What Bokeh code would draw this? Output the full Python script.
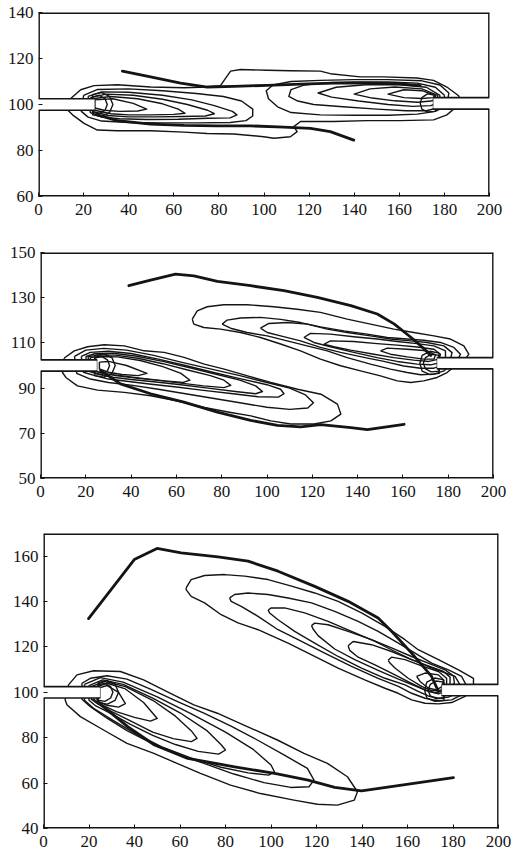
from bokeh.plotting import figure
from bokeh.models import FixedTicker, Range1d
from bokeh.embed import file_html
from bokeh.resources import INLINE

# ---------------- axes ----------------
X_RANGE = (0, 200)
X_TICKS = [0, 20, 40, 60, 80, 100, 120, 140, 160, 180, 200]
P1_Y_RANGE = (60, 140)
P1_Y_TICKS = [60, 80, 100, 120, 140]
P2_Y_RANGE = (50, 150)
P2_Y_TICKS = [50, 70, 90, 110, 130, 150]
P3_Y_RANGE = (40, 170)
P3_Y_TICKS = [40, 60, 80, 100, 120, 140, 160]

# ---------------- nozzles (x extent, y extent) ----------------
NOZZLE_LEFT_X = (0, 25)
NOZZLE_RIGHT_X = (175, 200)
P1_NOZZLE_LEFT_Y = (97.5, 102.5)
P1_NOZZLE_RIGHT_Y = (98, 103)
P2_NOZZLE_LEFT_Y = (97.5, 102.5)
P2_NOZZLE_RIGHT_Y = (98.5, 103.5)
P3_NOZZLE_LEFT_Y = (97.5, 102.5)
P3_NOZZLE_RIGHT_Y = (98.5, 103.5)

# ---------------- panel 1 ----------------
P1_TRAJ_UPPER = [(37.2, 114.5), (49.7, 112), (63, 109.3), (74.8, 107.6), (86.6, 107.9), (101.4, 108.3),
                 (116.2, 108.9), (130.9, 109.3), (145.7, 109.3), (160.4, 109), (169.3, 108.2)]
P1_TRAJ_LOWER = [(26.1, 95.5), (35, 93), (49.7, 91.5), (64.5, 90.9), (79.3, 90.7), (94, 90.7),
                 (108.8, 90.2), (120.6, 89.6), (129.4, 88.2), (139.8, 84.5)]
P1_CONTOURS = [
    [(14.3, 102.6), (18.7, 106.4), (24.6, 108.2), (35, 108.6), (49.7, 107.6), (64.5, 107.3), (74.8, 107.6),
     (80.7, 108.2), (83, 111.5), (85.2, 114.5), (89.6, 115.2), (101.4, 114.9), (111.7, 114.7), (125, 114.5),
     (129.4, 113.4), (142.7, 112), (153.1, 112), (167.8, 111.5), (175.2, 110.5), (181.1, 107.6), (186.3, 103.8),
     (187, 102), (185.5, 99.1), (181.1, 95.5), (175.2, 93.3), (160.4, 93), (145.7, 93), (130.9, 92.6),
     (116.2, 92.6), (113.2, 90.4), (114.7, 88.2), (111.7, 86), (104.4, 85.3), (99.9, 86), (86.6, 87.2),
     (74.8, 87.4), (64.5, 88), (49.7, 88.6), (35, 88.6), (26.1, 88.9), (20.2, 91.8), (15.1, 95.5), (12.8, 97.7)],
    [(20, 104), (26, 106.5), (40, 106.8), (55, 106), (70, 104.8), (82, 103.5), (90, 101.5), (95, 98), (95, 95),
     (92, 93), (85, 92.2), (70, 92), (55, 92), (40, 92.2), (28, 92.8), (22, 94.5), (19, 97)],
    [(22, 103.5), (28, 105.5), (40, 105.3), (55, 104), (68, 102), (78, 99.5), (86, 97), (88, 95.5), (85, 94.2),
     (75, 94), (62, 93.6), (48, 93.5), (36, 93.8), (28, 94.5), (23, 96.5)],
    [(23, 103), (30, 104.5), (42, 104), (55, 102.3), (66, 100), (75, 97.5), (78, 96), (74, 95), (64, 94.8),
     (52, 94.6), (40, 94.6), (31, 95.2), (24, 97)],
    [(24, 102.5), (32, 103.5), (44, 102.5), (55, 100.3), (62, 98), (65, 96.2), (60, 95.7), (50, 95.5),
     (40, 95.5), (32, 96), (25, 97.5)],
    [(25, 102), (33, 102.5), (42, 100.5), (48, 98), (44, 97.2), (36, 97), (29, 97.5), (25, 98.5)],
    [(24, 103.3), (27, 104), (29.5, 102.5), (30.5, 100), (29.5, 97.5), (27, 96), (24, 96.5)],
    [(24, 104.3), (28, 105.2), (31.5, 103.5), (33, 100), (31.5, 96.5), (28, 94.8), (24, 95.5)],
    [(182, 105), (178, 108.5), (170, 110.3), (155, 110.8), (140, 110.8), (125, 110.5), (112, 110), (104, 108.5),
     (101, 106), (102, 102.5), (106, 99), (112, 96.5), (125, 95.5), (140, 95.3), (155, 95.3), (168, 95.8),
     (176, 97), (181, 99.5)],
    [(180, 104), (176, 107.5), (168, 109.3), (155, 109.8), (140, 109.8), (128, 109.5), (118, 108.5),
     (112, 106.5), (111, 103.5), (115, 101.5), (122, 100), (135, 99), (150, 98), (163, 97.3), (172, 97.3),
     (178, 98.8), (180, 101)],
    [(178, 104), (172, 107.5), (160, 108.6), (145, 108.6), (132, 107.5), (124, 105), (130, 103.2),
     (142, 101.5), (155, 100), (166, 99.2), (174, 99.5), (178, 101)],
    [(177, 104), (170, 106.8), (158, 107.6), (147, 106.8), (140, 104.5), (148, 102.8), (158, 101.6),
     (168, 101), (174, 101.5), (177, 102.5)],
    [(176, 104), (170, 106), (162, 106.4), (155, 104.5), (162, 103), (170, 102.6), (175, 103)],
    [(176, 104), (172.5, 104.6), (170, 103), (169.3, 100.5), (170, 98), (172.5, 96.8), (176, 97)],
]

# ---------------- panel 2 ----------------
P2_TRAJ_UPPER = [(39, 135.3), (48.6, 137.8), (59.6, 140.4), (67.7, 139.7), (78.1, 137.2), (92.8, 135.3),
                 (107.5, 133.1), (122.2, 130.1), (137, 126.5), (148.7, 122.8), (156.1, 118.4), (163.5, 112.5),
                 (168.6, 108.1), (172.3, 104.4)]
P2_TRAJ_LOWER = [(26.5, 97.8), (35.3, 91.9), (48.6, 87.5), (63.3, 83.8), (78.1, 79.4), (92.8, 75.7),
                 (104.6, 73.5), (114.9, 72.8), (123.7, 73.8), (137, 72.5), (144.3, 71.6), (160.5, 74)]
P2_CONTOURS = [
    [(10.5, 103.3), (14.9, 106.5), (20.8, 108.3), (28.1, 109.2), (37, 108.7), (45.8, 106.5), (54.6, 105.8),
     (63.4, 103.6), (72.3, 100.6), (81.1, 98.4), (91.4, 95.4), (101.7, 92.5), (113.5, 89.5), (123.8, 87.3),
     (131.1, 82.9), (132.6, 78.5), (128.2, 75.5), (120.8, 74.1), (110.5, 74.1), (101.7, 75.5), (92.9, 77.7),
     (84, 79.2), (72.3, 81.4), (60.5, 84.3), (48.7, 86.6), (37, 88.1), (25.2, 89.1), (16.3, 91), (11.2, 94.7),
     (9.7, 96.9)],
    [(15, 104), (20, 106.8), (28, 107.6), (38, 106.8), (50, 104.5), (62, 101.5), (75, 98.5), (88, 95.5),
     (100, 92.5), (110, 90), (117, 87), (120.5, 83.5), (118, 81.2), (110, 80.6), (100, 81.5), (88, 83.5),
     (76, 85.5), (64, 87.5), (52, 89.5), (40, 91.3), (30, 92.5), (22, 94), (16, 96.5)],
    [(18, 104), (22, 105.8), (30, 106.3), (40, 105.3), (52, 102.8), (64, 100), (76, 97), (88, 94.2),
     (100, 91.5), (106, 89.5), (107.5, 87.5), (105, 86), (96, 86.2), (85, 87.5), (72, 89), (60, 90.5),
     (48, 91.8), (38, 93), (30, 94), (24, 95.5), (19, 97)],
    [(20, 104), (24, 105.2), (32, 105.4), (42, 104.2), (54, 101.8), (66, 99), (78, 96), (88, 93.5), (95, 91),
     (98, 88.5), (95, 87.5), (86, 88.5), (74, 90), (62, 91.5), (50, 92.8), (40, 93.8), (32, 94.8), (26, 96),
     (21, 97.5)],
    [(21, 103.8), (25, 104.6), (33, 104.6), (43, 103.2), (54, 100.8), (65, 98), (75, 95.5), (81, 93.5),
     (84, 91.2), (81, 90.2), (72, 91), (62, 92.2), (52, 93.4), (42, 94.4), (34, 95.4), (27, 96.6), (22, 98)],
    [(22, 103.5), (26, 104), (34, 103.8), (44, 102.2), (54, 99.5), (62, 96.5), (66, 93.5), (63, 92.5),
     (55, 93.2), (46, 94.2), (38, 95.2), (30, 96.2), (24, 97.5), (22, 98.5)],
    [(26, 101.5), (30, 101.8), (38, 100), (47, 96.5), (43, 95.5), (36, 96), (30, 97), (26, 98.5)],
    [(24, 103.3), (27, 104), (29.5, 102.5), (30.5, 100), (29.5, 97.5), (27, 96), (24, 96.5)],
    [(24, 104.3), (28, 105.2), (31.5, 103.5), (33, 100), (31.5, 96.5), (28, 94.8), (24, 95.5)],
    [(67, 120.5), (69.2, 124.2), (73.6, 126), (80.9, 126.9), (91.2, 126.9), (103, 126), (113.3, 124.9),
     (123.6, 123.5), (135.4, 120.5), (145.7, 118.3), (156, 116.1), (164.8, 114.6), (173.7, 113.1),
     (181, 111.7), (186.9, 108.7), (189.1, 105), (186.9, 101.8), (182.5, 99.4), (179.5, 96.9), (175.1, 94.7),
     (169.2, 93.2), (163.4, 92.5), (157.5, 93.2), (150.1, 95.4), (141.3, 97.6), (132.5, 99.9), (123.6, 102.8),
     (114.8, 106.5), (106, 109.5), (97.1, 112.4), (88.3, 114.6), (79.5, 116.1), (72.1, 116.8), (67.7, 118.3)],
    [(80.2, 118.3), (82.4, 120.1), (88.3, 121), (97.1, 121.3), (106, 120.4), (114.8, 119), (123.6, 117.1),
     (133.9, 115.3), (144.2, 113.9), (153.1, 112.4), (161.9, 111.7), (169.2, 111.2), (176.6, 110.2),
     (182.5, 108), (185.4, 105), (184, 102.1), (181, 100.3), (178.1, 97.6), (173.7, 96.2), (167.8, 95.9),
     (161.9, 96.9), (154.5, 98.4), (145.7, 100.6), (135.4, 103.5), (126.6, 106.5), (117.7, 108.7),
     (108.9, 110.9), (100.1, 113.1), (91.2, 114.6), (83.9, 116.5)],
    [(97.1, 116.5), (100.8, 118.6), (108.9, 119), (117.7, 118.3), (126.6, 116.1), (135.4, 114.6),
     (145.7, 113.1), (154.5, 111.7), (163.4, 110.9), (170.7, 110.2), (178.1, 108.7), (181.7, 105.7),
     (181, 102.8), (178.1, 100.3), (173.7, 98.8), (167.8, 98.8), (160.4, 99.8), (151.6, 101.8),
     (142.8, 103.6), (132.5, 105.8), (123.6, 108), (114.8, 110.9), (106, 113.1), (100.1, 114.6)],
    [(116.3, 112.4), (119.2, 114.2), (128, 113.9), (138.3, 112.7), (148.6, 111.7), (157.5, 110.6),
     (166.3, 109.7), (173.7, 108.7), (178.8, 106.5), (178.8, 103.5), (176.6, 101.3), (172.2, 100.3),
     (166.3, 100.6), (157.5, 101.8), (148.6, 103.5), (138.3, 105.8), (128, 108.3), (120.7, 110.2)],
    [(125.1, 109.4), (128, 110.9), (138.3, 110.6), (148.6, 109.7), (157.5, 109), (166.3, 108.2),
     (173.7, 107.2), (176.6, 105), (175.9, 102.8), (171.5, 101.8), (164.8, 102.4), (156, 103.5),
     (147.2, 105), (136.9, 106.8), (129.5, 108.3)],
    [(150.1, 106.5), (153.1, 107.7), (161.9, 107.2), (170.7, 106.5), (174.4, 104.7), (173.7, 102.8),
     (169.2, 102.8), (161.9, 103.8), (154.5, 105)],
    [(176, 104.5), (172.5, 105), (170, 103.5), (169, 101), (170, 98.5), (172.5, 97.2), (176, 97.5)],
    [(176, 105.5), (172, 106.3), (168.5, 104.5), (167.5, 101), (168.5, 97.5), (172, 96), (176, 96.5)],
]

# ---------------- panel 3 ----------------
P3_TRAJ_UPPER = [(19.8, 132.5), (29.7, 145.3), (39.9, 158.5), (49.9, 163.4), (60.5, 161.5), (76.7, 159.7),
                 (89.9, 157.8), (103.1, 153.4), (119.2, 146.7), (133.9, 140.1), (147.1, 132.8), (153, 126.9),
                 (161.8, 117.3), (170.6, 107), (173.6, 100.4)]
P3_TRAJ_LOWER = [(25.3, 94.5), (37, 84.9), (48.8, 76.8), (63.4, 70.9), (84, 67.2), (101.6, 64.3),
                 (116.3, 61.3), (128, 58.1), (139.8, 56.6), (157.4, 59.1), (180.2, 62.4)]
P3_CONTOURS = [
    [(11, 103.3), (14.7, 107.7), (22, 109.5), (33.8, 109.2), (44, 105.5), (55.8, 99.6), (66.1, 94.5),
     (76.4, 90.8), (88.1, 85.6), (102.8, 79), (114.5, 73.1), (124.8, 68.7), (133.6, 62.8), (138, 56.2),
     (136.6, 52.5), (129.2, 50.3), (120.4, 50.7), (110.1, 52.5), (95.4, 55.4), (82.2, 59.1), (69, 64.3),
     (58.7, 68.7), (48.5, 73.1), (36.7, 77.5), (26.4, 83.4), (16.2, 89.3), (10.3, 94.5), (9.5, 96.7)],
    [(16.9, 104), (20.6, 106.2), (27.9, 107.3), (36.7, 105.8), (47, 101.4), (58.7, 96), (70.5, 90.8),
     (82.2, 85.2), (94, 79), (105.7, 72.4), (116, 66.5), (118.9, 61.3), (116.7, 58.4), (108.7, 58.1),
     (96.9, 60.2), (83.7, 64), (70.5, 68.7), (58.7, 72.8), (47, 77.8), (36.7, 83.1), (27.9, 88.6),
     (20.6, 93.7), (16.9, 97)],
    [(18, 103.5), (25, 106.5), (35, 104.5), (50, 98), (65, 90.5), (80, 82.5), (92, 75), (100, 68),
     (101.5, 65), (99, 63.5), (90, 64.5), (78, 67), (65, 71), (52, 76), (40, 82), (30, 88), (22, 93), (18, 96.5)],
    [(20, 103), (26, 105.5), (35, 103.5), (48, 97.5), (60, 91), (72, 83), (78, 77), (80, 74.6), (77, 72.8),
     (68, 74), (58, 77), (48, 81), (38, 86), (30, 90.5), (23, 94), (20, 96.5)],
    [(21, 102.5), (27, 104.8), (36, 102.5), (48, 96.5), (58, 89.5), (65, 83), (67.5, 79.7), (65, 78.3),
     (57, 79.6), (48, 82.5), (38, 87.5), (30, 91.5), (24, 94.8), (21, 97)],
    [(22, 102), (28, 104), (36, 101.5), (44, 95.5), (50, 88.5), (47, 87.3), (40, 89), (32, 91.5), (25, 94.8),
     (22, 97)],
    [(23, 101.5), (28, 103), (33, 100), (36, 95), (33, 93.5), (28, 94.3), (24, 96), (23, 98)],
    [(24, 103.3), (27, 104), (29.5, 102.5), (30.5, 100), (29.5, 97.5), (27, 96), (24, 96.5)],
    [(24, 104.3), (28, 105.2), (31.5, 103.5), (33, 100), (31.5, 96.5), (28, 94.8), (24, 95.5)],
    [(62.7, 146), (64.9, 149.7), (70.8, 151.5), (79.6, 151.9), (88.4, 151.2), (98.7, 149.7), (109, 146.8),
     (119.2, 143.8), (129.5, 140.1), (139.8, 135), (150.1, 129.1), (158.9, 123.2), (164.7, 118.8),
     (173.6, 114.4), (182.4, 109.9), (189, 106.2), (189, 101.9), (185.3, 98.2), (179.4, 95.5), (173.6, 94.9),
     (167.7, 95.2), (161.8, 96.7), (155.9, 99.6), (150.1, 101.8), (141.2, 105.5), (129.5, 110.7),
     (119.2, 115.8), (107.5, 121.7), (94.3, 127.6), (85.5, 130.6), (78.1, 134.2), (70.8, 139.4),
     (64.9, 142.3), (62.7, 145.3)],
    [(81.8, 141.6), (84, 143.1), (89.9, 143.8), (98.7, 143.1), (107.5, 141.6), (117.8, 139.4), (128, 135.7),
     (138.3, 131.3), (147.1, 126.9), (156, 121.7), (163.3, 117.3), (170.6, 112.9), (178, 109.9),
     (183.8, 107), (186.1, 102.6), (183.8, 98.9), (179.4, 96.7), (173.6, 96.2), (167.7, 97.4), (161.8, 99.6),
     (156, 102.6), (147.1, 106.2), (135.4, 111.4), (123.6, 117.3), (111.9, 123.2), (103.1, 127.6),
     (94.3, 133.5), (86.9, 137.9), (82.5, 140.1)],
    [(98.7, 136.2), (100.1, 137.2), (106, 137.2), (114.8, 135), (125.1, 131.3), (135.4, 126.9),
     (145.7, 122.5), (154.5, 118), (161.8, 114.4), (169.1, 111.4), (175, 109.2), (180.9, 107), (183.1, 103.3),
     (181.6, 99.6), (178, 97.9), (173.6, 97.4), (169.1, 98.4), (164.7, 100.4), (158.9, 103.3), (150.1, 106.2),
     (139.8, 110.7), (129.5, 115.8), (119.2, 121.7), (110.4, 126.9), (103.1, 132), (99.4, 135)],
    [(117.8, 129.4), (119.2, 130.5), (125.1, 129.8), (133.9, 126.9), (144.2, 123.2), (153, 119.6),
     (161.8, 115.8), (169.1, 112.9), (176.5, 109.9), (180.2, 107.3), (180.6, 104.1), (178, 100.8),
     (173.6, 99.3), (169.1, 100.4), (163.3, 102.9), (156, 105.8), (147.1, 109.7), (136.8, 114.4),
     (128, 119.1), (120.7, 125), (118.5, 127.9)],
    [(133.9, 120.5), (136.1, 122.4), (144.2, 121), (153, 118), (161.8, 114.4), (169.1, 111.7), (175.8, 109.2),
     (178.7, 106.7), (178.7, 103.3), (175.8, 100.7), (172.1, 99.9), (167.7, 101.1), (161.8, 104),
     (154.5, 107.7), (145.7, 112.1), (138.3, 115.5), (134.6, 118.5)],
    [(151.5, 114.1), (153, 115.5), (158.9, 114.4), (166.2, 111.7), (173.6, 109.2), (177.2, 106.2),
     (177.2, 102.9), (174.3, 100.8), (170.6, 100.8), (166.2, 102.6), (160.3, 106.2), (154.5, 110.7),
     (152.3, 112.9)],
    [(164, 107), (167.7, 108.5), (173.6, 107.7), (175.8, 105.5), (175.3, 102.6), (172.8, 101.1),
     (169.1, 101.9), (165.5, 104.8)],
    [(176, 104.5), (172.5, 105), (170, 103.5), (169, 101), (170, 98.5), (172.5, 97.2), (176, 97.5)],
    [(176, 105.5), (172, 106.3), (168.5, 104.5), (167.5, 101), (168.5, 97.5), (172, 96), (176, 96.5)],
]

INK = "#141414"
FONT = "Liberation Serif"
PAGE_W = 511


def make_panel(y_range, y_ticks, contours, trajs, noz_l_y, noz_r_y, height, borders, frame_w):
    top, bottom, left = borders
    p = figure(width=PAGE_W, height=height, output_backend="svg", toolbar_location=None,
               x_range=Range1d(*X_RANGE), y_range=Range1d(*y_range),
               min_border_left=left, min_border_right=PAGE_W - left - frame_w,
               min_border_top=top, min_border_bottom=bottom)
    p.outline_line_color = None
    p.xgrid.visible = False
    p.ygrid.visible = False
    p.background_fill_color = "white"
    p.border_fill_color = "white"

    # contours (closed loops)
    xs = [[pt[0] for pt in c] + [c[0][0]] for c in contours]
    ys = [[pt[1] for pt in c] + [c[0][1]] for c in contours]
    p.multi_line(xs, ys, line_color=INK, line_width=1.4, line_join="round")

    # thick trajectories
    for t in trajs:
        p.line([pt[0] for pt in t], [pt[1] for pt in t], line_color=INK, line_width=2.8,
               line_join="round", line_cap="round")

    # nozzles
    x0, x1 = X_RANGE
    p.quad(left=[NOZZLE_LEFT_X[0] - 2, NOZZLE_RIGHT_X[0]], right=[NOZZLE_LEFT_X[1], NOZZLE_RIGHT_X[1] + 2],
           bottom=[noz_l_y[0], noz_r_y[0]], top=[noz_l_y[1], noz_r_y[1]],
           fill_color="white", line_color=None)
    nx = [[NOZZLE_LEFT_X[0], NOZZLE_LEFT_X[1]], [NOZZLE_LEFT_X[0], NOZZLE_LEFT_X[1]],
          [NOZZLE_RIGHT_X[0], NOZZLE_RIGHT_X[1]], [NOZZLE_RIGHT_X[0], NOZZLE_RIGHT_X[1]]]
    ny = [[noz_l_y[1], noz_l_y[1]], [noz_l_y[0], noz_l_y[0]],
          [noz_r_y[1], noz_r_y[1]], [noz_r_y[0], noz_r_y[0]]]
    p.multi_line(nx, ny, line_color=INK, line_width=1.7)
    p.multi_line([[NOZZLE_LEFT_X[1], NOZZLE_LEFT_X[1]], [NOZZLE_RIGHT_X[0], NOZZLE_RIGHT_X[0]]],
                 [[noz_l_y[0], noz_l_y[1]], [noz_r_y[0], noz_r_y[1]]],
                 line_color=INK, line_width=0.8, line_alpha=0.7)

    # frame with gaps at the nozzle openings
    y0, y1 = y_range
    fx = [[x0, x1], [x0, x1], [x0, x0], [x0, x0], [x1, x1], [x1, x1]]
    fy = [[y0, y0], [y1, y1], [y0, noz_l_y[0]], [noz_l_y[1], y1], [y0, noz_r_y[0]], [noz_r_y[1], y1]]
    p.multi_line(fx, fy, line_color=INK, line_width=2.8)

    for ax in (p.xaxis[0], p.yaxis[0]):
        ax.axis_line_color = None
        ax.major_tick_in = 4
        ax.major_tick_out = 0
        ax.major_tick_line_color = INK
        ax.major_tick_line_width = 1
        ax.minor_tick_line_color = None
        ax.major_label_text_font = FONT
        ax.major_label_text_font_size = "17px"
        ax.major_label_text_color = INK
    p.xaxis.ticker = FixedTicker(ticks=X_TICKS)
    p.yaxis.ticker = FixedTicker(ticks=y_ticks)
    p.xaxis.major_label_standoff = 7
    p.yaxis.major_label_standoff = 5
    return p


p1 = make_panel(P1_Y_RANGE, P1_Y_TICKS, P1_CONTOURS, [P1_TRAJ_UPPER, P1_TRAJ_LOWER],
                P1_NOZZLE_LEFT_Y, P1_NOZZLE_RIGHT_Y, 230, (12, 34, 38), 451)
p2 = make_panel(P2_Y_RANGE, P2_Y_TICKS, P2_CONTOURS, [P2_TRAJ_UPPER, P2_TRAJ_LOWER],
                P2_NOZZLE_LEFT_Y, P2_NOZZLE_RIGHT_Y, 275, (22, 27, 40), 453)
p3 = make_panel(P3_Y_RANGE, P3_Y_TICKS, P3_CONTOURS, [P3_TRAJ_UPPER, P3_TRAJ_LOWER],
                P3_NOZZLE_LEFT_Y, P3_NOZZLE_RIGHT_Y, 354, (28, 31, 43), 455)

# three independent roots, stacked by the page (no shared frame alignment)
open("out.html", "w").write(file_html([p1, p2, p3], INLINE))
